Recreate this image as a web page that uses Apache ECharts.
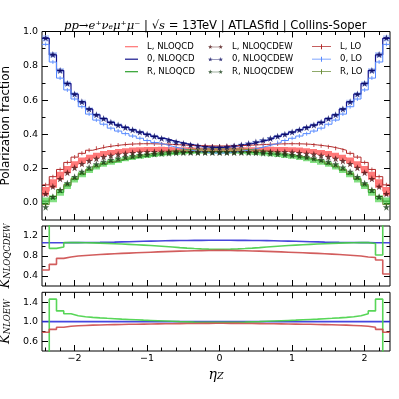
<!DOCTYPE html>
<html>
<head>
<meta charset="utf-8">
<script src="https://cdn.jsdelivr.net/npm/echarts@6/dist/echarts.min.js"></script>
<style>
html, body { margin: 0; padding: 0; background: #fff; }
#chart { width: 399px; height: 399px; }
</style>
</head>
<body>
<div id="chart"></div>
<script>
// eta_Z bin edges
var edges = [-2.45,-2.35,-2.25,-2.15,-2.05,-1.95,-1.85,-1.75,-1.65,-1.55,-1.45,-1.35,-1.25,-1.15,-1.05,-0.95,-0.85,-0.75,-0.65,-0.55,-0.45,-0.35,-0.25,-0.15,-0.05,
  0.05,0.15,0.25,0.35,0.45,0.55,0.65,0.75,0.85,0.95,1.05,1.15,1.25,1.35,1.45,1.55,1.65,1.75,1.85,1.95,2.05,2.15,2.25,2.35];

// tick positions
var xMajor = [-2, -1, 0, 1, 2];
var xMinor = [-2.4,-2.2,-1.8,-1.6,-1.4,-1.2,-0.8,-0.6,-0.4,-0.2,0.2,0.4,0.6,0.8,1.2,1.4,1.6,1.8,2.2];
var pfMajor = [0, 0.2, 0.4, 0.6, 0.8, 1.0];
var pfMinor = [0.1, 0.3, 0.5, 0.7, 0.9];
var kqMajor = [0.4, 0.8, 1.2];
var kqMinor = [0.6, 1.0];
var keMajor = [0.6, 1.0, 1.4];
var keMinor = [0.8, 1.2];

// polarization fractions, NLO QCD (band centre)
var L_qcd = [0.068,0.113,0.158,0.194,0.224,0.247,0.264,0.277,0.286,0.294,0.300,0.304,0.308,0.311,0.312,0.312,0.313,0.312,0.311,0.310,0.310,0.309,0.309,0.309,
  0.309,0.309,0.309,0.310,0.310,0.311,0.312,0.313,0.312,0.312,0.311,0.308,0.304,0.300,0.294,0.286,0.277,0.264,0.247,0.224,0.194,0.158,0.113,0.068];
var Z_qcd = [0.960,0.864,0.772,0.696,0.634,0.589,0.547,0.514,0.491,0.470,0.454,0.440,0.426,0.413,0.400,0.388,0.376,0.365,0.355,0.346,0.338,0.332,0.327,0.324,
  0.324,0.327,0.332,0.338,0.346,0.355,0.365,0.376,0.388,0.400,0.413,0.426,0.440,0.454,0.470,0.491,0.514,0.547,0.589,0.634,0.696,0.772,0.864,0.960];
var R_qcd = [0.010,0.024,0.061,0.099,0.136,0.165,0.190,0.210,0.225,0.237,0.247,0.256,0.263,0.270,0.275,0.280,0.284,0.288,0.292,0.294,0.297,0.298,0.298,0.298,
  0.298,0.298,0.298,0.297,0.294,0.292,0.288,0.284,0.280,0.275,0.270,0.263,0.256,0.247,0.237,0.225,0.210,0.190,0.165,0.136,0.099,0.061,0.024,0.010];

// NLO QCD scale band half widths
var errL = [0.025,0.025,0.023,0.021,0.019,0.018,0.017,0.016,0.016,0.015,0.015,0.015,0.015,0.014,0.014,0.014,0.014,0.014,0.014,0.014,0.014,0.014,0.014,0.014,
  0.014,0.014,0.014,0.014,0.014,0.014,0.014,0.014,0.014,0.014,0.014,0.015,0.015,0.015,0.015,0.016,0.016,0.017,0.018,0.019,0.021,0.023,0.025,0.025];
var err0 = [0.018,0.016,0.015,0.014,0.013,0.012,0.011,0.011,0.010,0.010,0.010,0.009,0.009,0.009,0.009,0.009,0.008,0.008,0.008,0.008,0.008,0.008,0.008,0.008,
  0.008,0.008,0.008,0.008,0.008,0.008,0.008,0.008,0.009,0.009,0.009,0.009,0.009,0.010,0.010,0.010,0.011,0.011,0.012,0.013,0.014,0.015,0.016,0.018];
var errR = [0.022,0.020,0.019,0.018,0.017,0.016,0.015,0.015,0.014,0.014,0.014,0.013,0.013,0.013,0.013,0.013,0.012,0.012,0.012,0.012,0.012,0.012,0.012,0.012,
  0.012,0.012,0.012,0.012,0.012,0.012,0.012,0.012,0.013,0.013,0.013,0.013,0.013,0.014,0.014,0.014,0.015,0.015,0.016,0.017,0.018,0.019,0.020,0.022];

// NLO QCD+EW (stars)
var L_ew = [0.053,0.095,0.140,0.176,0.205,0.228,0.245,0.258,0.268,0.276,0.283,0.288,0.292,0.295,0.297,0.298,0.299,0.299,0.299,0.298,0.298,0.297,0.297,0.297,
  0.297,0.297,0.297,0.298,0.298,0.299,0.299,0.299,0.298,0.297,0.295,0.292,0.288,0.283,0.276,0.268,0.258,0.245,0.228,0.205,0.176,0.140,0.095,0.053];
var Z_ew = [0.963,0.866,0.773,0.697,0.635,0.590,0.548,0.514,0.492,0.470,0.454,0.440,0.426,0.413,0.400,0.388,0.376,0.365,0.355,0.346,0.338,0.332,0.327,0.324,
  0.324,0.327,0.332,0.338,0.346,0.355,0.365,0.376,0.388,0.400,0.413,0.426,0.440,0.454,0.470,0.492,0.514,0.548,0.590,0.635,0.697,0.773,0.866,0.963];
var R_ew = [-0.025,0.035,0.075,0.115,0.152,0.182,0.207,0.226,0.240,0.251,0.260,0.267,0.273,0.278,0.282,0.285,0.288,0.290,0.292,0.293,0.294,0.294,0.294,0.294,
  0.294,0.294,0.294,0.294,0.293,0.292,0.290,0.288,0.285,0.282,0.278,0.273,0.267,0.260,0.251,0.240,0.226,0.207,0.182,0.152,0.115,0.075,0.035,-0.025];

// LO
var L_lo = [0.105,0.153,0.195,0.236,0.267,0.289,0.307,0.318,0.327,0.333,0.338,0.342,0.344,0.345,0.345,0.344,0.343,0.341,0.339,0.337,0.335,0.334,0.333,0.332,
  0.332,0.333,0.334,0.335,0.337,0.339,0.341,0.343,0.344,0.345,0.345,0.344,0.342,0.338,0.333,0.327,0.318,0.307,0.289,0.267,0.236,0.195,0.153,0.105];
var Z_lo = [0.925,0.822,0.728,0.659,0.606,0.561,0.518,0.483,0.459,0.436,0.419,0.404,0.390,0.377,0.364,0.352,0.341,0.330,0.320,0.312,0.304,0.298,0.293,0.291,
  0.291,0.293,0.298,0.304,0.312,0.320,0.330,0.341,0.352,0.364,0.377,0.390,0.404,0.419,0.436,0.459,0.483,0.518,0.561,0.606,0.659,0.728,0.822,0.925];
var R_lo = [-0.010,0.037,0.077,0.107,0.142,0.171,0.195,0.214,0.229,0.241,0.252,0.262,0.270,0.278,0.285,0.291,0.297,0.302,0.307,0.310,0.313,0.314,0.315,0.315,
  0.315,0.315,0.314,0.313,0.310,0.307,0.302,0.297,0.291,0.285,0.278,0.270,0.262,0.252,0.241,0.229,0.214,0.195,0.171,0.142,0.107,0.077,0.037,-0.010];

// K_NLOQCDEW
var kqL = [0.52,0.633,0.753,0.78,0.80,0.81,0.82,0.83,0.838,0.845,0.852,0.858,0.864,0.87,0.876,0.882,0.887,0.892,0.897,0.901,0.905,0.908,0.911,0.913,
  0.913,0.911,0.908,0.905,0.901,0.897,0.892,0.887,0.882,0.876,0.87,0.864,0.858,0.852,0.845,0.838,0.83,0.82,0.81,0.80,0.78,0.77,0.72,0.44];
var kqZ = [1.066,1.066,1.066,1.067,1.068,1.069,1.070,1.072,1.075,1.078,1.082,1.086,1.090,1.094,1.098,1.101,1.104,1.107,1.109,1.111,1.112,1.113,1.114,1.114,
  1.114,1.114,1.113,1.112,1.111,1.109,1.107,1.104,1.101,1.098,1.094,1.090,1.086,1.082,1.078,1.075,1.072,1.070,1.069,1.068,1.067,1.066,1.066,1.066];
var kqR = [2.5,0.953,0.98,1.068,1.068,1.065,1.062,1.057,1.052,1.046,1.04,1.033,1.026,1.018,1.01,1.0,0.99,0.979,0.968,0.958,0.95,0.943,0.937,0.933,
  0.933,0.937,0.943,0.95,0.958,0.968,0.979,0.99,1.0,1.01,1.018,1.026,1.033,1.04,1.046,1.052,1.057,1.062,1.065,1.068,1.068,1.05,0.82,2.5];

// K_NLOEW
var keL = [0.782,0.843,0.884,0.905,0.915,0.922,0.928,0.933,0.937,0.94,0.943,0.946,0.948,0.95,0.952,0.954,0.956,0.958,0.96,0.962,0.963,0.964,0.965,0.966,
  0.966,0.965,0.964,0.963,0.962,0.96,0.958,0.956,0.954,0.952,0.95,0.948,0.946,0.943,0.94,0.937,0.933,0.928,0.922,0.915,0.905,0.884,0.843,0.782];
var keZ = [1.000,1.000,1.000,1.001,1.001,1.001,1.001,1.001,1.001,1.001,1.001,1.001,1.001,1.001,1.001,1.001,1.001,1.001,1.001,1.001,1.001,1.001,1.001,1.001,
  1.001,1.001,1.001,1.001,1.001,1.001,1.001,1.001,1.001,1.001,1.001,1.001,1.001,1.001,1.001,1.001,1.001,1.001,1.001,1.001,1.001,1.000,1.000,1.000];
var keR = [-1.5,1.46,1.22,1.16,1.12,1.10,1.088,1.077,1.068,1.06,1.052,1.045,1.038,1.031,1.025,1.019,1.013,1.007,1.001,0.996,0.991,0.988,0.986,0.985,
  0.985,0.986,0.988,0.991,0.996,1.001,1.007,1.013,1.019,1.025,1.031,1.038,1.045,1.052,1.06,1.068,1.077,1.088,1.10,1.12,1.16,1.22,1.46,-1.5];

var font = 'DejaVu Sans';
var starPath = 'path://M2.5,0 L3.09,1.69 L4.88,1.73 L3.45,2.81 L3.97,4.52 L2.5,3.5 L1.03,4.52 L1.55,2.81 L0.12,1.73 L1.91,1.69 Z';

var centers = edges.slice(0, -1).map(function (e, i) { return (e + edges[i + 1]) / 2; });
function steps(v) { return edges.map(function (e, i) { return [e, v[Math.min(i, v.length - 1)]]; }); }
function atCenters(v) { return centers.map(function (c, i) { return [c, v[i]]; }); }
function fmt1(v) { return v.toFixed(1).replace('-', '\u2212'); }
function fmtX(v) { return String(Math.round(v)).replace('-', '\u2212'); }

var chart = echarts.init(document.getElementById('chart'));

var grids = [
  { left: 42, top: 31.5, width: 348, height: 188.5 },
  { left: 42, top: 226, width: 348, height: 60 },
  { left: 42, top: 292.3, width: 348, height: 58.7 }
];
grids.forEach(function (g) {
  g.show = true; g.borderColor = '#000'; g.borderWidth = 1;
  g.backgroundColor = 'transparent'; g.outerBoundsMode = 'none';
});

var xAxes = [], yAxes = [];
function addAxes(gi, yMin, yMax, yMaj, yMnr, yName, yGap, xName) {
  [['bottom', xMajor, 6], ['bottom', xMinor, 3.5], ['top', xMajor, 6], ['top', xMinor, 3.5]].forEach(function (s, j) {
    var ax = {
      type: 'value', gridIndex: gi, position: s[0], min: -2.45, max: 2.35,
      axisLine: { show: false, onZero: false }, splitLine: { show: false },
      axisTick: { show: true, inside: true, length: s[2], customValues: s[1], lineStyle: { color: '#000', width: 1 } },
      axisLabel: { show: j === 0 && !!xName, customValues: s[1], formatter: fmtX, margin: 3,
        fontFamily: font, fontSize: 9.5, color: '#000' }
    };
    if (j === 0 && xName) {
      ax.name = xName; ax.nameLocation = 'middle'; ax.nameGap = 17;
      ax.nameTextStyle = { color: '#000', rich: {
        e: { fontFamily: 'DejaVu Serif', fontStyle: 'italic', fontSize: 14 },
        z: { fontFamily: 'DejaVu Serif', fontStyle: 'italic', fontSize: 9.5, verticalAlign: 'bottom' } } };
    }
    xAxes.push(ax);
  });
  [['left', yMaj, 6], ['left', yMnr, 3.5], ['right', yMaj, 6], ['right', yMnr, 3.5]].forEach(function (s, j) {
    var ax = {
      type: 'value', gridIndex: gi, position: s[0], min: yMin, max: yMax,
      axisLine: { show: false, onZero: false }, splitLine: { show: false },
      axisTick: { show: true, inside: true, length: s[2], customValues: s[1], lineStyle: { color: '#000', width: 1 } },
      axisLabel: { show: j === 0, customValues: s[1], formatter: fmt1, margin: 4,
        fontFamily: font, fontSize: 9.5, color: '#000' }
    };
    if (j === 0) {
      ax.name = yName; ax.nameLocation = 'middle'; ax.nameRotate = 90; ax.nameGap = yGap;
      ax.nameTextStyle = { color: '#000', fontFamily: font, fontSize: 12, rich: {
        k: { fontFamily: 'DejaVu Serif', fontStyle: 'italic', fontSize: 13 },
        s: { fontFamily: 'DejaVu Serif', fontStyle: 'italic', fontSize: 8.5, verticalAlign: 'bottom' } } };
    }
    yAxes.push(ax);
  });
}
addAxes(0, -0.1, 1.0, pfMajor, pfMinor, 'Polarization fraction', 23, null);
addAxes(1, 0.2, 1.4, kqMajor, kqMinor, '{k|K}{s|NLOQCDEW}', 21, null);
addAxes(2, 0.4, 1.6, keMajor, keMinor, '{k|K}{s|NLOEW}', 21, '{e|\u03b7}{z|Z}');

function band(v, err, color) {
  return {
    type: 'custom', xAxisIndex: 0, yAxisIndex: 0, silent: true, clip: true, z: 1,
    data: centers.map(function (c, i) { return [edges[i], edges[i + 1], v[i] - err[i], v[i] + err[i]]; }),
    encode: { x: [0, 1], y: [2, 3] },
    renderItem: function (params, api) {
      var a = api.coord([api.value(0), api.value(3)]);
      var b = api.coord([api.value(1), api.value(2)]);
      var x0 = Math.round(a[0]), x1 = Math.round(b[0]);
      return { type: 'rect', shape: { x: x0, y: a[1], width: x1 - x0, height: b[1] - a[1] }, style: { fill: color } };
    }
  };
}
function stepLine(name, v, color, gi, width, z) {
  return {
    name: name, type: 'line', step: 'end', xAxisIndex: gi * 4, yAxisIndex: gi * 4,
    data: steps(v), symbol: 'none', color: color, itemStyle: { color: color },
    lineStyle: { color: color, width: width }, clip: true, silent: true, z: z || 3
  };
}
function loTicks(name, v, color) {
  return { name: name, type: 'scatter', xAxisIndex: 0, yAxisIndex: 0, data: atCenters(v),
    symbol: 'rect', symbolSize: [1, 4], color: color, itemStyle: { color: color }, silent: true, z: 4 };
}
function stars(name, v, color) {
  return { name: name, type: 'scatter', xAxisIndex: 0, yAxisIndex: 0, data: atCenters(v),
    symbol: starPath, symbolSize: 7, color: color, itemStyle: { color: color }, silent: true, z: 5 };
}

var series = [
  band(L_qcd, errL, 'rgba(255,40,40,0.62)'),
  band(R_qcd, errR, 'rgba(50,205,50,0.6)'),
  band(Z_qcd, err0, 'rgba(120,160,255,0.45)'),
  stepLine('L, NLOQCD', L_qcd, '#ff7373', 0, 1),
  stepLine('0, NLOQCD', Z_qcd, '#14148c', 0, 1.2),
  stepLine('R, NLOQCD', R_qcd, '#2ca02c', 0, 1),
  stepLine('L, LO', L_lo, '#b22a2a', 0, 1),
  stepLine('0, LO', Z_lo, '#5588ff', 0, 1),
  stepLine('R, LO', R_lo, '#6b8e3a', 0, 1),
  loTicks('L, LO', L_lo, '#b22a2a'),
  loTicks('0, LO', Z_lo, '#5588ff'),
  loTicks('R, LO', R_lo, '#6b8e3a'),
  stars('L, NLOQCDEW', L_ew, '#4a0e0e'),
  stars('0, NLOQCDEW', Z_ew, '#08085e'),
  stars('R, NLOQCDEW', R_ew, '#173d17'),
  stepLine('kqZ', kqZ, 'rgba(50,50,215,0.9)', 1, 1.6),
  stepLine('kqR', kqR, 'rgba(70,205,70,0.9)', 1, 1.6),
  stepLine('kqL', kqL, 'rgba(205,75,75,0.9)', 1, 1.6),
  stepLine('keZ', keZ, 'rgba(50,50,220,0.9)', 2, 1.6),
  stepLine('keR', keR, 'rgba(70,210,70,0.9)', 2, 1.6),
  stepLine('keL', keL, 'rgba(205,75,75,0.9)', 2, 1.6)
];

function legendCol(names, icon, left, w) {
  return {
    orient: 'vertical', left: left, top: 36.7, itemWidth: w, itemHeight: 10, itemGap: 2.5,
    icon: icon, data: names, selectedMode: false, itemStyle: { borderWidth: 0 },
    textStyle: { fontFamily: font, fontSize: 8.5, color: '#000', lineHeight: 10, padding: [0, 0, 0, 4] }
  };
}
var lineIcon = 'path://M0,0 H13 V1.2 H0 Z';
var starIcon = 'path://M2.5,0 L3.09,1.69 L4.88,1.73 L3.45,2.81 L3.97,4.52 L2.5,3.5 L1.03,4.52 L1.55,2.81 L0.12,1.73 L1.91,1.69 Z ' +
  'M13.5,0 L14.09,1.69 L15.88,1.73 L14.45,2.81 L14.97,4.52 L13.5,3.5 L12.03,4.52 L12.55,2.81 L11.12,1.73 L12.91,1.69 Z M4,2.2 H12 V2.8 H4 Z';
var loIcon = 'path://M0,2.1 H19 V2.9 H0 Z M9,0 H10 V5 H9 Z';

var option = {
  animation: false,
  textStyle: { fontFamily: font },
  title: {
    text: '{m|pp\u2192e\u207a\u03bd\u2091\u03bc\u207a\u03bc\u207b} | \u221a{m|s} = 13TeV | ATLASfid | Collins-Soper',
    left: 59, top: 15,
    textStyle: { fontFamily: font, fontSize: 11.6, fontWeight: 'normal', color: '#000',
      rich: { m: { fontFamily: 'DejaVu Serif', fontStyle: 'italic', fontSize: 11.6, color: '#000' } } }
  },
  legend: [
    legendCol(['L, NLOQCD', '0, NLOQCD', 'R, NLOQCD'], lineIcon, 120, 13),
    legendCol(['L, NLOQCDEW', '0, NLOQCDEW', 'R, NLOQCDEW'], starIcon, 203, 15),
    legendCol(['L, LO', '0, LO', 'R, LO'], loIcon, 307, 19)
  ],
  grid: grids,
  xAxis: xAxes,
  yAxis: yAxes,
  series: series
};
chart.setOption(option);
window.addEventListener('resize', function () { chart.resize(); });
</script>
</body>
</html>
